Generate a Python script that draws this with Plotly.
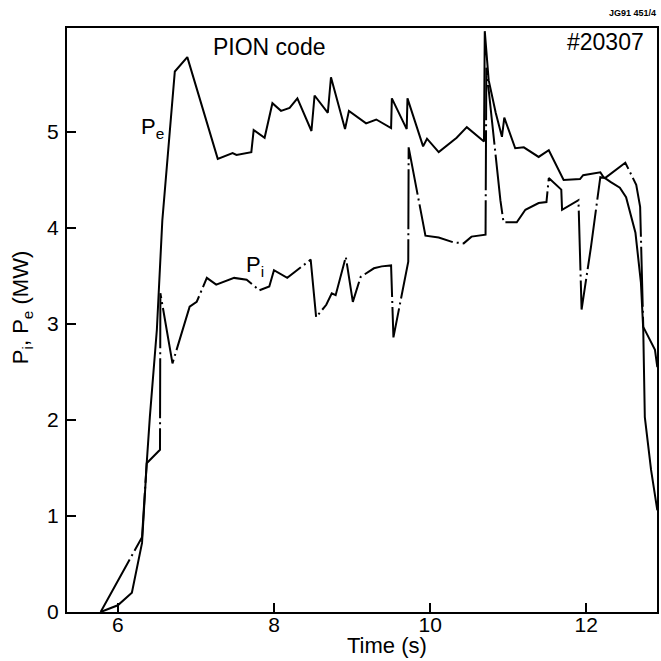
import plotly.graph_objects as go

# Electron heating power P_e (solid line)
pe_time = [5.78, 6.00, 6.18, 6.31, 6.37, 6.41, 6.50, 6.57, 6.73, 6.89, 7.28, 7.47, 7.52, 7.71, 7.74,
           7.88, 7.98, 8.09, 8.20, 8.30, 8.48, 8.52, 8.69, 8.73, 8.91, 8.96, 9.18, 9.31, 9.50, 9.51,
           9.70, 9.71, 9.91, 9.96, 10.11, 10.34, 10.47, 10.69, 10.70, 10.75, 10.84, 10.92, 10.95,
           11.09, 11.20, 11.39, 11.52, 11.71, 11.92, 11.96, 12.18, 12.22, 12.31, 12.43, 12.51,
           12.63, 12.70, 12.73, 12.75, 12.83, 12.91]
pe_power = [0.00, 0.07, 0.20, 0.72, 1.55, 2.03, 2.94, 4.08, 5.63, 5.78, 4.72, 4.78, 4.76, 4.79, 5.02,
            4.94, 5.30, 5.22, 5.25, 5.35, 5.01, 5.38, 5.20, 5.57, 5.03, 5.22, 5.09, 5.13, 5.04, 5.35,
            5.03, 5.35, 4.85, 4.93, 4.79, 4.94, 5.05, 4.90, 6.05, 5.54, 5.20, 4.95, 5.15,
            4.83, 4.84, 4.74, 4.81, 4.50, 4.51, 4.55, 4.58, 4.53, 4.48, 4.42, 4.32,
            3.95, 3.43, 2.94, 2.03, 1.48, 1.06]

# Ion heating power P_i (dash-dot line)
pi_time = [5.78, 6.31, 6.37, 6.54, 6.545, 6.70, 6.92, 7.01, 7.14, 7.26, 7.49, 7.65, 7.77, 7.81,
           7.94, 8.00, 8.17, 8.47, 8.54, 8.67, 8.74, 8.79, 8.92, 9.01, 9.11, 9.28, 9.38, 9.50,
           9.53, 9.72, 9.725, 9.94, 10.11, 10.30, 10.43, 10.53, 10.71, 10.72, 10.90, 10.94,
           11.11, 11.22, 11.39, 11.49, 11.52, 11.68, 11.69, 11.80, 11.90, 11.94, 12.06, 12.18,
           12.24, 12.50, 12.64, 12.69, 12.73, 12.88, 12.91]
pi_power = [0.00, 0.78, 1.55, 1.69, 3.32, 2.59, 3.18, 3.23, 3.48, 3.41, 3.48, 3.46, 3.38, 3.35,
            3.39, 3.56, 3.48, 3.67, 3.07, 3.20, 3.32, 3.30, 3.70, 3.23, 3.49, 3.58, 3.60, 3.61,
            2.86, 3.65, 4.84, 3.92, 3.90, 3.85, 3.84, 3.91, 3.93, 5.67, 4.29, 4.06,
            4.06, 4.19, 4.26, 4.27, 4.52, 4.40, 4.19, 4.24, 4.29, 3.15, 3.80, 4.53,
            4.52, 4.68, 4.45, 4.22, 2.97, 2.73, 2.55]

x_ticks = [6, 8, 10, 12]
y_ticks = [0, 1, 2, 3, 4, 5]

FONT = "Liberation Sans, Arial, sans-serif"

fig = go.Figure()
fig.add_trace(go.Scatter(x=pe_time, y=pe_power, mode="lines", name="Pe",
                         line=dict(color="black", width=2)))
fig.add_trace(go.Scatter(x=pi_time, y=pi_power, mode="lines", name="Pi",
                         line=dict(color="black", width=2, dash="60px,4px,2px,4px")))

axis_common = dict(showline=True, linecolor="black", linewidth=2, mirror=True,
                   ticks="inside", ticklen=9, tickwidth=1.5, tickcolor="black",
                   showgrid=False, zeroline=False,
                   tickfont=dict(family=FONT, size=21, color="black"))

fig.update_xaxes(range=[5.349, 12.906], tickvals=x_ticks, ticktext=[str(v) for v in x_ticks],
                 ticklabelstandoff=-7, **axis_common)
fig.update_yaxes(range=[0, 6.083], tickvals=y_ticks, ticktext=[str(v) for v in y_ticks],
                 ticklabelstandoff=2, **axis_common)

annotations = [
    dict(text="PION code", x=(270 - 67) / 592, y=(612 - 47) / 584, xref="paper", yref="paper",
         showarrow=False, font=dict(family=FONT, size=23, color="black"), xanchor="center", yanchor="middle"),
    dict(text="#20307", x=(648 - 67) / 592, y=(612 - 42) / 584, xref="paper", yref="paper",
         showarrow=False, font=dict(family=FONT, size=23, color="black"), xanchor="right", yanchor="middle"),
    dict(text="<b>JG91 451/4</b>", x=(660 - 67) / 592, y=(612 - 13) / 584, xref="paper", yref="paper",
         showarrow=False, font=dict(family=FONT, size=9, color="black"), xanchor="right", yanchor="middle"),
    dict(text="P<sub>e</sub>", x=(153 - 67) / 592, y=(612 - 128) / 584, xref="paper", yref="paper",
         showarrow=False, font=dict(family=FONT, size=22, color="black"), xanchor="center", yanchor="middle"),
    dict(text="P<sub>i</sub>", x=(256 - 67) / 592, y=(612 - 266) / 584, xref="paper", yref="paper",
         showarrow=False, font=dict(family=FONT, size=22, color="black"), xanchor="center", yanchor="middle"),
    dict(text="Time (s)", x=(388 - 67) / 592, y=(612 - 646) / 584, xref="paper", yref="paper",
         showarrow=False, font=dict(family=FONT, size=22, color="black"), xanchor="center", yanchor="middle"),
    dict(text="P<sub>i</sub>, P<sub>e</sub> (MW)", x=(22 - 67) / 592, y=(612 - 308) / 584,
         xref="paper", yref="paper", textangle=-90,
         showarrow=False, font=dict(family=FONT, size=22, color="black"), xanchor="center", yanchor="middle"),
]

fig.update_layout(width=661, height=661, margin=dict(l=67, r=2, t=28, b=49),
                  paper_bgcolor="white", plot_bgcolor="white", showlegend=False,
                  annotations=annotations)

fig.write_html("out.html", config={"displayModeBar": False},
               post_script="document.body.style.margin='0';document.body.style.overflow='hidden';")
